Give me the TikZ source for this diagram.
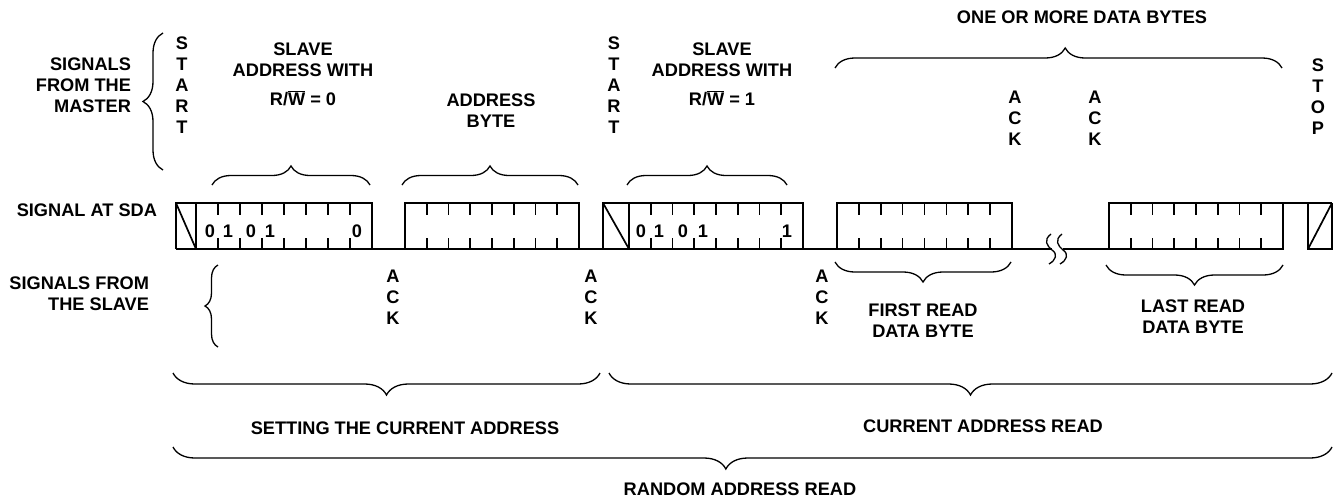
\documentclass[tikz,border=0pt]{standalone}
\usepackage{fontspec}
\setmainfont{Liberation Sans}
\usetikzlibrary{decorations.pathreplacing}
\newcommand\mybyte[2]{%
  \draw[wave] (#1,203) rectangle (#2,249);
  \foreach \i in {1,...,7}{%
    \draw[wave] ({#1+(#2-#1)*\i/8},203) -- ++(0,12)
                ({#1+(#2-#1)*\i/8},249) -- ++(0,-11);}%
}
\begin{document}
\begin{tikzpicture}[x=1pt,y=-1pt,
  lbl/.style={font=\fontsize{18.2}{21}\selectfont\bfseries, inner sep=0pt, outer sep=0pt, align=center},
  wave/.style={line width=1.7pt},
  brc/.style={decorate, decoration={brace, amplitude=#1}, line width=1.3pt},
  sq/.style={line width=1.3pt}]
\useasboundingbox (0,0) rectangle (1335,501);

% ---------- waveform ----------
\draw[wave] (176,249) -- (176,203) -- (196,203);
\draw[wave] (176,203) -- (196,249);
\mybyte{196}{372}
\mybyte{405}{579}
\draw[wave] (603,249) -- (603,203) -- (629,203);
\draw[wave] (603,203) -- (629,249);
\mybyte{629}{803}
\mybyte{837}{1012}
\mybyte{1109}{1283}
\draw[wave] (176,249) -- (1052,249);
\draw[wave] (1063,249) -- (1283,249);
\draw[wave] (1283,203) -- (1332,203);
\draw[wave] (1308,203) -- (1308,249) -- (1332,249) -- (1332,203);
\draw[wave] (1308,249) -- (1332,203);
\draw[sq] (1051,234) .. controls (1043,240) and (1047,246) .. (1052,250) .. controls (1058,254) and (1056,260) .. (1049,264);
\draw[sq] (1062,234) .. controls (1054,240) and (1058,246) .. (1063,250) .. controls (1069,254) and (1067,260) .. (1060,264);

% ---------- digits ----------
\node[lbl] (d1) at (210,231) {0};
\node[lbl] (d2) at (228,231) {1};
\node[lbl] (d3) at (251,231) {0};
\node[lbl] (d4) at (270,231) {1};
\node[lbl] (d5) at (357,231) {0};
\node[lbl] (e1) at (641,231) {0};
\node[lbl] (e2) at (659,231) {1};
\node[lbl] (e3) at (683,231) {0};
\node[lbl] (e4) at (703,231) {1};
\node[lbl] (e5) at (787,231) {1};

% ---------- braces ----------
\draw[brc=20] (163,170) -- (163,33);
\draw[brc=13] (218,347) -- (218,265);
\draw[brc=19] (212,185) -- (370,185);
\draw[brc=19] (402,185) -- (578,185);
\draw[brc=19] (627,185) -- (787,185);
\draw[brc=20, decoration={aspect=0.515}] (835,68) -- (1282,68);
\draw[brc=20] (1011,262) -- (835,262);
\draw[brc=20] (1283,265) -- (1106,265);
\draw[brc=22] (600,373) -- (173,373);
\draw[brc=22] (1332,373) -- (609,373);
\draw[brc=22, decoration={aspect=0.523}] (1332,447) -- (173,447);

% ---------- labels ----------
\node[lbl, anchor=north] (one) at (1082,10.5) {ONE OR MORE DATA BYTES};
\node[lbl, anchor=north east, align=right] (master) at (131,57.5) {SIGNALS\\FROM THE\\MASTER};
\node[lbl, anchor=north] (start1) at (182,36.5) {S\\T\\A\\R\\T};
\node[lbl, anchor=north] (sa1) at (303,42.5) {SLAVE\\ADDRESS WITH\\[8pt]R/$\overline{\hbox{W}}$ = 0};
\node[lbl, anchor=north] (ab) at (491,93.5) {ADDRESS\\BYTE};
\node[lbl, anchor=north] (start2) at (614,36.5) {S\\T\\A\\R\\T};
\node[lbl, anchor=north] (sa2) at (722,42.5) {SLAVE\\ADDRESS WITH\\[8pt]R/$\overline{\hbox{W}}$ = 1};
\node[lbl, anchor=north] (mack1) at (1015,91) {A\\C\\K};
\node[lbl, anchor=north] (mack2) at (1095,91) {A\\C\\K};
\node[lbl, anchor=north] (stop) at (1318,58.5) {S\\T\\O\\P};
\node[lbl, anchor=east] (sda) at (157,210) {SIGNAL AT SDA};
\node[lbl, anchor=north east, align=right] (slave) at (149,276.5) {SIGNALS FROM\\THE SLAVE};
\node[lbl, anchor=north] (sack1) at (393,269.5) {A\\C\\K};
\node[lbl, anchor=north] (sack2) at (591,269.5) {A\\C\\K};
\node[lbl, anchor=north] (sack3) at (822,269.5) {A\\C\\K};
\node[lbl, anchor=north] (first) at (923,303.5) {FIRST READ\\DATA BYTE};
\node[lbl, anchor=north] (last) at (1193,299.5) {LAST READ\\DATA BYTE};
\node[lbl] (set) at (405,428) {SETTING THE CURRENT ADDRESS};
\node[lbl] (cur) at (983,426) {CURRENT ADDRESS READ};
\node[lbl] (rnd) at (740,489) {RANDOM ADDRESS READ};
\end{tikzpicture}
\end{document}
